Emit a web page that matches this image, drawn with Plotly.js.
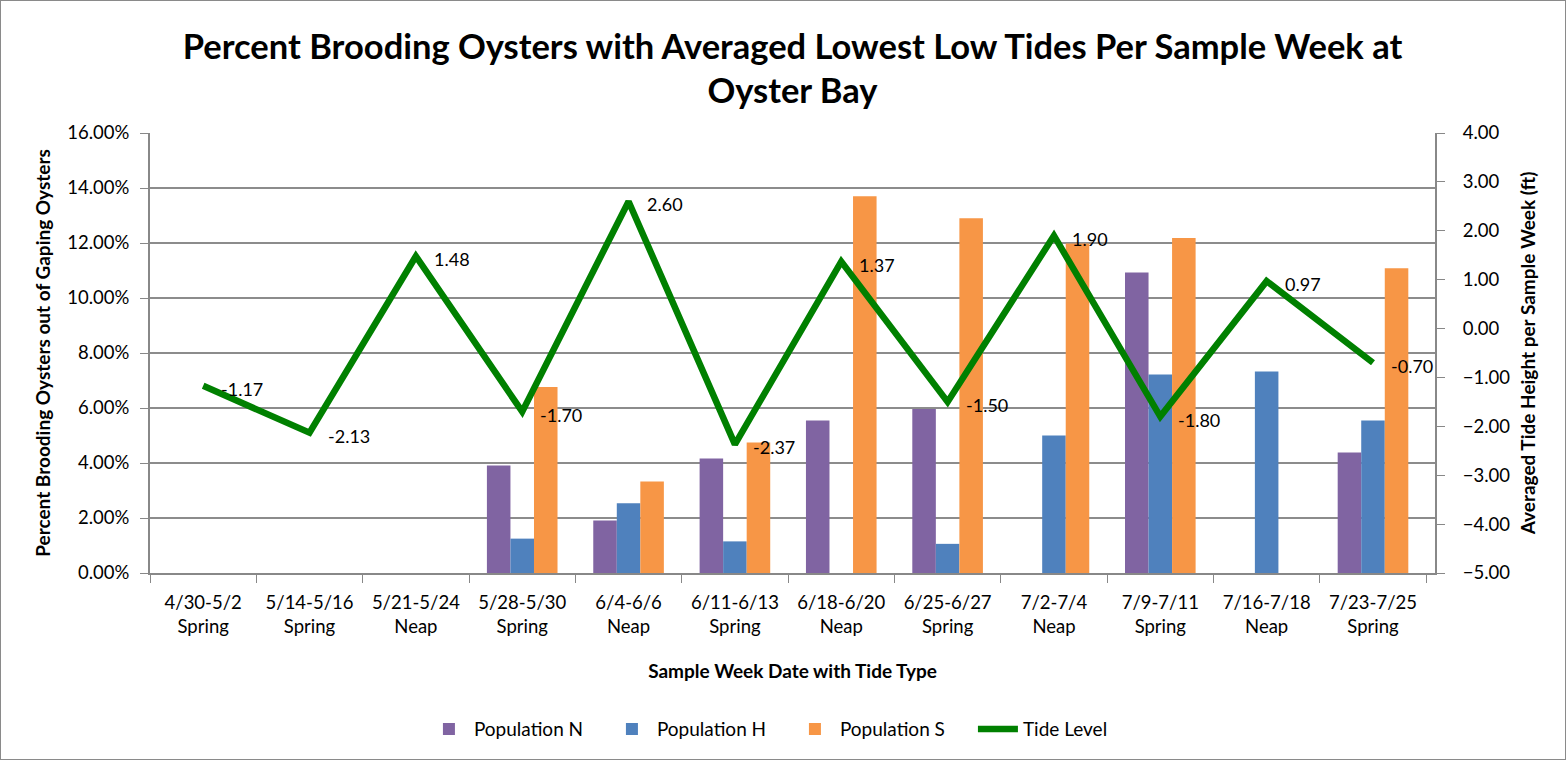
<!DOCTYPE html>
<html>
<head>
<meta charset="utf-8">
<script src="https://cdn.plot.ly/plotly-3.0.1.min.js"></script>
<style>
html,body{margin:0;padding:0;background:#fff;}
#wrap{position:relative;width:1566px;height:760px;}
#chart{width:1566px;height:760px;}
#border{position:absolute;left:0;top:0;width:1564px;height:758px;border:1px solid #8a8a8a;pointer-events:none;}
</style>
</head>
<body>
<div id="wrap"><div id="chart"></div><div id="border"></div></div>
<script>
const categories = ['4/30-5/2<br>Spring','5/14-5/16<br>Spring','5/21-5/24<br>Neap','5/28-5/30<br>Spring','6/4-6/6<br>Neap','6/11-6/13<br>Spring','6/18-6/20<br>Neap','6/25-6/27<br>Spring','7/2-7/4<br>Neap','7/9-7/11<br>Spring','7/16-7/18<br>Neap','7/23-7/25<br>Spring'];
const popN = [null,null,null,0.0391,0.0191,0.0416,0.0555,0.0596,null,0.1093,null,0.0438];
const popH = [null,null,null,0.0125,0.0254,0.0115,null,0.0106,0.0500,0.0722,0.0733,0.0555];
const popS = [null,null,null,0.0676,0.0333,0.0475,0.1370,0.1290,0.1198,0.1218,null,0.1108];
const tide = [-1.17,-2.13,1.48,-1.70,2.60,-2.37,1.37,-1.50,1.90,-1.80,0.97,-0.70];

const FONT = "Lato, 'Open Sans', sans-serif";

const traces = [
  {type:'bar', name:'Population N', x:categories, y:popN, marker:{color:'#8064A2'}, yaxis:'y'},
  {type:'bar', name:'Population H', x:categories, y:popH, marker:{color:'#4F81BD'}, yaxis:'y'},
  {type:'bar', name:'Population S', x:categories, y:popS, marker:{color:'#F79646'}, yaxis:'y'},
  {type:'scatter', mode:'lines', name:'Tide Level', x:categories, y:tide, yaxis:'y2',
   line:{color:'#008000', width:6.5}}
];

// data labels for the tide line, built from the tide array
const tideLabels = categories.map((c, i) => ({
  x: c, y: tide[i], xref:'x', yref:'y2',
  text: tide[i].toFixed(2), showarrow:false,
  xanchor:'left', yanchor:'middle', xshift:16, yshift:-3,
  font:{family:FONT, size:18, color:'#000'}
}));

const layout = {
  width:1566, height:760,
  paper_bgcolor:'#fff', plot_bgcolor:'#fff',
  font:{family:FONT, size:18.5, color:'#000'},
  margin:{l:150, r:131, t:133, b:187},
  barmode:'group', bargap:0.336, bargroupgap:0,
  showlegend:true,
  annotations: tideLabels,
  title:{text:'<b>Percent Brooding Oysters with Averaged Lowest Low Tides Per Sample Week at<br>Oyster Bay</b>',
         font:{family:FONT, size:34.5, color:'#000'}, x:0.5, xanchor:'center', xref:'paper',
         y:0.923, yanchor:'top', yref:'container'},
  xaxis:{type:'category', tickson:'boundaries', ticks:'outside', ticklen:8, tickcolor:'#888',
         showline:true, linecolor:'#888', linewidth:2, showgrid:false, ticklabelstandoff:12,
         tickfont:{family:FONT, size:18.5},
         title:{text:'<b>Sample Week Date with Tide Type</b>', font:{family:FONT, size:19}, standoff:28}},
  yaxis:{range:[0,0.16], dtick:0.02, tickformat:'.2%', showgrid:true, gridcolor:'#8c8c8c', gridwidth:2,
         showline:true, linecolor:'#888', linewidth:2, ticks:'outside', ticklen:8, tickcolor:'#888',
         zeroline:false, tickfont:{family:FONT, size:18.5}, ticklabelstandoff:7,
         title:{text:'<b>Percent Brooding Oysters out of Gaping Oysters</b>', font:{family:FONT, size:19}, standoff:12}},
  yaxis2:{range:[-5,4], dtick:1, tickformat:'.2f', overlaying:'y', side:'right', showgrid:false,
          showline:true, linecolor:'#888', linewidth:2, ticks:'outside', ticklen:8, tickcolor:'#888',
          zeroline:false, tickfont:{family:FONT, size:18.5}, ticklabelstandoff:14,
          title:{text:'<b>Averaged Tide Height per Sample Week (ft)</b>', font:{family:FONT, size:19}, standoff:12}},
  legend:{orientation:'h', x:0.498, xanchor:'center', y:-0.355, yanchor:'middle',
          font:{family:FONT, size:19}, itemwidth:40, entrywidth:128, entrywidthmode:'pixels', traceorder:'normal'}
};

Plotly.newPlot('chart', traces, layout, {displayModeBar:false, staticPlot:true});
</script>
</body>
</html>
